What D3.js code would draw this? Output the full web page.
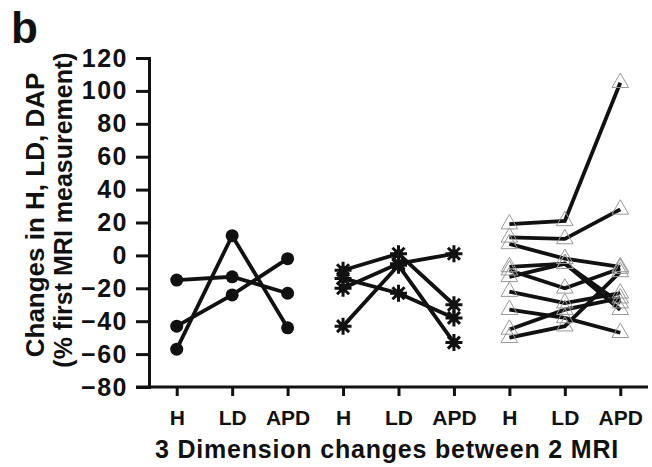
<!DOCTYPE html>
<html>
<head>
<meta charset="utf-8">
<script src="https://cdn.jsdelivr.net/npm/d3@7"></script>
<style>
    body { margin: 0; background: #fff; }
    text { font-family: "Liberation Sans", Arial, sans-serif; font-weight: bold; fill: #111; }
</style>
</head>
<body>
<svg id="vis-container" width="652" height="467"></svg>
<script>
// x categories (three dimensions, repeated for each of the 3 groups)
var dimensions = ["H", "LD", "APD"];
var xLabels = ["H", "LD", "APD", "H", "LD", "APD", "H", "LD", "APD"];
var yTicks = [120, 100, 80, 60, 40, 20, 0, -20, -40, -60, -80];

// group 1 (filled circles), one row per patient: H, LD, APD
var groupCircles = [
    [-57, 12, -44],
    [-15, -13, -23],
    [-43, -24, -2]
];

// group 2 (asterisks)
var groupStars = [
    [-9, 1, -30],
    [-14, -23, -38],
    [-20, -5, 1],
    [-43, -6, -53]
];

// group 3 (open triangles)
var groupTriangles = [
    [19, 21, 105],
    [11, 10, 28],
    [7, -2, -7],
    [-7, -5, -33],
    [-9, -20, -8],
    [-13, -5, -29],
    [-22, -29, -23],
    [-33, -38, -47],
    [-45, -33, -26],
    [-50, -43, -10]
];

var margin = { top: 58, right: 4, bottom: 80, left: 149 };
var width = 652, height = 467;

var svg = d3.select('#vis-container');

var xScale = d3.scalePoint()
    .domain(d3.range(xLabels.length))
    .range([margin.left, width - margin.right])
    .padding(0.5);

var yScale = d3.scaleLinear()
    .domain([-80, 120])
    .range([387, margin.top]);

// y axis
var yAxis = d3.axisLeft(yScale)
    .tickValues(yTicks)
    .tickSize(13)
    .tickPadding(8);

var gy = svg.append('g')
    .attr('transform', 'translate(' + margin.left + ',0)')
    .call(yAxis);
gy.select('.domain').attr('stroke', '#111').attr('stroke-width', 3);
gy.selectAll('.tick line').attr('stroke', '#111').attr('stroke-width', 3);
gy.selectAll('.tick text')
    .attr('font-size', 25)
    .attr('font-family', '"Liberation Sans", Arial, sans-serif')
    .attr('font-weight', 'bold')
    .attr('letter-spacing', 1.5)
    .attr('fill', '#111');

// x axis (line starts a bit left of the y axis, like the original)
var xAxis = d3.axisBottom(xScale)
    .tickSize(9)
    .tickSizeOuter(0)
    .tickPadding(14)
    .tickFormat(function (d) { return xLabels[d]; });

var gx = svg.append('g')
    .attr('transform', 'translate(0,' + yScale(-80) + ')')
    .call(xAxis);
gx.select('.domain').remove();
gx.append('line')
    .attr('x1', margin.left - 13)
    .attr('x2', width - margin.right)
    .attr('stroke', '#111')
    .attr('stroke-width', 3);
gx.selectAll('.tick line').attr('stroke', '#111').attr('stroke-width', 3);
gx.selectAll('.tick text')
    .attr('font-size', 21)
    .attr('font-family', '"Liberation Sans", Arial, sans-serif')
    .attr('font-weight', 'bold')
    .attr('fill', '#111');

// axis titles
svg.append('text')
    .attr('x', 387)
    .attr('y', 458)
    .attr('text-anchor', 'middle')
    .attr('font-size', 25)
    .attr('letter-spacing', 0.8)
    .text('3 Dimension changes between 2 MRI');

svg.append('text')
    .attr('transform', 'translate(44,215) rotate(-90)')
    .attr('text-anchor', 'middle')
    .attr('font-size', 26)
    .text('Changes in H, LD, DAP');

svg.append('text')
    .attr('transform', 'translate(72,210) rotate(-90)')
    .attr('text-anchor', 'middle')
    .attr('font-size', 25)
    .text('(% first MRI measurement)');

svg.append('text')
    .attr('x', 11)
    .attr('y', 43)
    .attr('font-size', 44)
    .text('b');

var line = d3.line()
    .x(function (d) { return xScale(d.i); })
    .y(function (d) { return yScale(d.v); });

// turn a row of values into points for group g (0, 1, 2)
function toPoints(row, g) {
    return row.map(function (v, k) { return { i: g * dimensions.length + k, v: v }; });
}

function drawGroup(rows, g, cls) {
    var wrapper = svg.append('g').attr('class', cls);
    var pts = rows.map(function (r) { return toPoints(r, g); });

    wrapper.selectAll('.subject')
        .data(pts)
        .enter().append('path')
        .attr('class', 'subject')
        .attr('d', line)
        .attr('fill', 'none')
        .attr('stroke', '#111')
        .attr('stroke-width', 3.8);

    return wrapper.selectAll('.marker')
        .data(d3.merge(pts))
        .enter().append('g')
        .attr('class', 'marker')
        .attr('transform', function (d) { return 'translate(' + xScale(d.i) + ',' + yScale(d.v) + ')'; });
}

drawGroup(groupCircles, 0, 'circles')
    .append('circle')
    .attr('r', 6.5)
    .attr('fill', '#111');

var stars = drawGroup(groupStars, 1, 'stars');
stars.append('path')
    .attr('d', function () {
        var p = '';
        [0, 45, 90, 135].forEach(function (a) {
            var r = 8.5, t = a * Math.PI / 180;
            p += 'M' + (-r * Math.cos(t)) + ',' + (-r * Math.sin(t)) + 'L' + (r * Math.cos(t)) + ',' + (r * Math.sin(t));
        });
        return p;
    })
    .attr('stroke', '#111')
    .attr('stroke-width', 3);
stars.append('circle')
    .attr('r', 4.5)
    .attr('fill', '#111');

drawGroup(groupTriangles, 2, 'triangles')
    .append('path')
    .attr('d', d3.symbol().type(d3.symbolTriangle).size(120))
    .attr('fill', 'none')
    .attr('stroke', '#999')
    .attr('stroke-width', 1);
</script>
</body>
</html>
